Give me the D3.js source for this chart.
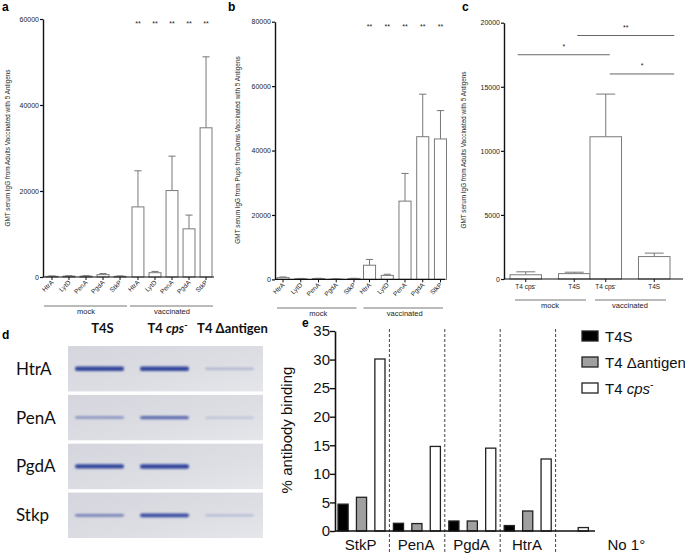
<!DOCTYPE html>
<html><head><meta charset="utf-8">
<script src="https://cdn.jsdelivr.net/npm/d3@7"></script>
<style>body{margin:0;background:#fff}svg{display:block}</style>
</head><body>
<svg id="fig" width="685" height="554"></svg>
<script>
// ---------- DATA ----------
const antigens = ["HtrA", "LytD", "PenA", "PgdA", "StkP"];
const treatGroups = ["mock", "vaccinated"];
// panel a: adults vaccinated with 5 antigens (GMT IgG)
const aMock = [150, 200, 200, 550, 150];
const aMockErr = [250, 300, 300, 800, 250];
const aVacc = [16300, 1000, 20100, 11200, 34700];
const aVaccErr = [24700, 1300, 28100, 14400, 51200];
const aStars = ["**", "**", "**", "**", "**"];
const aTicks = [0, 20000, 40000, 60000];
// panel b: pups from vaccinated dams
const bMock = [550, 200, 250, 100, 250];
const bMockErr = [750, 300, 350, 150, 350];
const bVacc = [4400, 1250, 24300, 44300, 43600];
const bVaccErr = [6200, 1600, 32900, 57500, 52400];
const bStars = ["**", "**", "**", "**", "**"];
const bTicks = [0, 20000, 40000, 60000, 80000];
// panel c
const strainsC = ["T4 cps-", "T4S"];
const cMock = [330, 420];
const cMockErr = [560, 530];
const cVacc = [11100, 1750];
const cVaccErr = [14430, 2020];
const cTicks = [0, 5000, 10000, 15000, 20000];
// comparisons in c: [from group, from strain, to group, to strain, label, level]
const cSig = [
  ["mock", "T4 cps-", "vaccinated", "T4 cps-", "*", 17500],
  ["mock", "T4S", "vaccinated", "T4S", "**", 19000],
  ["vaccinated", "T4 cps-", "vaccinated", "T4S", "*", 16000]
];
// panel d: western blot
const blotAntigens = ["HtrA", "PenA", "PgdA", "Stkp"];
const blotStrains = ["T4S", "T4 cps-", "T4 Δantigen"];
const blotIntensity = [
  [0.95, 1.0, 0.12],
  [0.3, 0.55, 0.05],
  [0.95, 1.0, 0.0],
  [0.4, 0.75, 0.1]
];
// panel e: % antibody binding
const eGroups = ["StkP", "PenA", "PgdA", "HtrA", "No 1°"];
const eSeries = ["T4S", "T4 Δantigen", "T4 cps-"];
const eT4S = [4.7, 1.35, 1.75, 0.95, null];
const eDelta = [5.9, 1.3, 1.75, 3.5, null];
const eCps = [30.1, 14.8, 14.5, 12.6, 0.6];
const eTicks = [0, 5, 10, 15, 20, 25, 30, 35];

// ---------- DRAW ----------
const svg = d3.select("#fig");
const SANS = "'Liberation Sans', Arial, Helvetica, sans-serif";
const CAL = "Lato, 'Open Sans', sans-serif";

function panelLabel(t, x, y) {
  svg.append("text").attr("x", x).attr("y", y).attr("font-family", SANS)
    .attr("font-weight", "bold").attr("font-size", 12).text(t);
}

function strainText(sel, label, italic) {
  if (label.endsWith("-") && label.startsWith("T4 cps")) {
    sel.append("tspan").text("T4 ");
    sel.append("tspan").attr("font-style", italic ? "italic" : null).text("cps");
    sel.append("tspan").attr("baseline-shift", "super").attr("font-size", "0.7em").text("-");
  } else sel.text(label);
}

function barPanel(cfg) {
  const g = svg.append("g");
  const y = d3.scaleLinear().domain([0, cfg.yMax]).range([cfg.y0, cfg.yTop]);
  const xo = d3.scaleBand().domain(treatGroups).range([cfg.xo0, cfg.xo1]);
  const xi = d3.scaleBand().domain(cfg.cats).range(cfg.inner).paddingInner(cfg.pad);
  const rows = [];
  treatGroups.forEach((grp, gi) => cfg.cats.forEach((c, ci) => rows.push({
    grp, c, v: cfg.values[gi][ci], e: cfg.errors[gi][ci],
    star: cfg.stars ? cfg.stars[gi][ci] : ""
  })));
  const cx = d => xo(d.grp) + xi(d.c) + xi.bandwidth() / 2;
  const bw = xi.bandwidth();
  g.selectAll("line.err").data(rows).join("line")
    .attr("x1", cx).attr("x2", cx).attr("y1", d => y(d.v)).attr("y2", d => y(d.e))
    .attr("stroke", "#777").attr("stroke-width", 1);
  g.selectAll("line.cap").data(rows).join("line")
    .attr("x1", d => cx(d) - bw * 0.3).attr("x2", d => cx(d) + bw * 0.3)
    .attr("y1", d => y(d.e)).attr("y2", d => y(d.e))
    .attr("stroke", "#777").attr("stroke-width", 1);
  g.selectAll("rect.bar").data(rows).join("rect")
    .attr("x", d => xo(d.grp) + xi(d.c)).attr("width", bw)
    .attr("y", d => y(d.v)).attr("height", d => y(0) - y(d.v))
    .attr("fill", "#fff").attr("stroke", "#7a7a7a").attr("stroke-width", 1);
  const ya = g.append("g").attr("transform", `translate(${cfg.xAxis},0)`)
    .call(d3.axisLeft(y).tickValues(cfg.yTicks).tickSize(3).tickSizeOuter(0).tickFormat(d3.format("d")));
  ya.select(".domain").attr("stroke", "#111").attr("stroke-width", 1.4);
  ya.selectAll(".tick line").attr("stroke", "#111").attr("stroke-width", 1.2);
  ya.selectAll(".tick text").attr("font-family", SANS).attr("font-size", 7).attr("fill", "#222").attr("x", -4);
  g.append("line").attr("x1", cfg.xAxis).attr("x2", cfg.xEnd).attr("y1", y(0)).attr("y2", y(0))
    .attr("stroke", "#111").attr("stroke-width", 1.2);
  g.selectAll("line.xt").data(rows).join("line")
    .attr("x1", cx).attr("x2", cx).attr("y1", y(0)).attr("y2", y(0) + 3)
    .attr("stroke", "#111").attr("stroke-width", 1);
  if (cfg.rotate) {
    g.selectAll("text.xl").data(rows).join("text")
      .attr("transform", d => `translate(${cx(d) + 2},${y(0) + 6}) rotate(-45)`)
      .attr("text-anchor", "end").attr("font-family", SANS).attr("font-size", 6.5).attr("fill", "#222")
      .text(d => d.c);
  } else {
    g.selectAll("text.xl").data(rows).join("text")
      .attr("x", cx).attr("y", y(0) + 10).attr("text-anchor", "middle")
      .attr("font-family", SANS).attr("font-size", 6.5).attr("fill", "#222")
      .each(function (d) { strainText(d3.select(this), d.c, false); });
  }
  treatGroups.forEach(grp => {
    g.append("line").attr("x1", xo(grp) + cfg.gInset[0]).attr("x2", xo(grp) + xo.bandwidth() - cfg.gInset[1])
      .attr("y1", cfg.gy).attr("y2", cfg.gy).attr("stroke", "#666").attr("stroke-width", 0.9);
    g.append("text").attr("x", xo(grp) + xo.bandwidth() / 2).attr("y", cfg.gy + 8)
      .attr("text-anchor", "middle").attr("font-family", SANS).attr("font-size", 7.5).attr("fill", "#222").text(grp);
  });
  if (cfg.stars) {
    g.selectAll("text.st").data(rows.filter(d => d.star)).join("text")
      .attr("x", cx).attr("y", cfg.starY).attr("text-anchor", "middle")
      .attr("font-family", SANS).attr("font-size", 7).attr("fill", "#222").text(d => d.star);
  }
  g.append("text").attr("transform", `translate(${cfg.titleX},${cfg.titleY}) rotate(-90)`)
    .attr("text-anchor", "middle").attr("font-family", SANS).attr("font-size", 6.4).attr("fill", "#222")
    .text(cfg.title);
  return { g, y, xo, xi };
}

// panel a
panelLabel("a", 2, 11);
barPanel({
  cats: antigens, values: [aMock, aVacc], errors: [aMockErr, aVaccErr],
  stars: [["", "", "", "", ""], aStars], yMax: 60000, y0: 277, yTop: 19, yTicks: aTicks,
  xAxis: 43, xEnd: 214, xo0: 43, xo1: 215, inner: [3, 83], pad: 0.3, rotate: true,
  gy: 306, gInset: [1, 2], starY: 26,
  titleX: 10, titleY: 148, title: "GMT serum IgG from Adults Vaccinated with 5 Antigens"
});
// panel b
panelLabel("b", 228, 11);
barPanel({
  cats: antigens, values: [bMock, bVacc], errors: [bMockErr, bVaccErr],
  stars: [["", "", "", "", ""], bStars], yMax: 80000, y0: 279.4, yTop: 21.7, yTicks: bTicks,
  xAxis: 275, xEnd: 445, xo0: 275, xo1: 448, inner: [2, 85], pad: 0.32, rotate: true,
  gy: 308, gInset: [2, 5], starY: 29,
  titleX: 240, titleY: 150, title: "GMT serum IgG from Pups from Dams Vaccinated with 5 Antigens"
});
// panel c
panelLabel("c", 462, 11);
const pc = barPanel({
  cats: strainsC, values: [cMock, cVacc], errors: [cMockErr, cVaccErr],
  stars: null, yMax: 20000, y0: 279, yTop: 22.7, yTicks: cTicks,
  xAxis: 504, xEnd: 683, xo0: 510, xo1: 670, inner: [0, 80], pad: 0.35, rotate: false,
  gy: 300, gInset: [5, 4], starY: 0,
  titleX: 466, titleY: 150, title: "GMT serum IgG from Adults Vaccinated with 5 Antigens"
});
cSig.forEach(([g1, s1, g2, s2, lab, lev], i) => {
  const x1 = pc.xo(g1) + pc.xi(s1) + pc.xi.bandwidth() / 2;
  const x2 = pc.xo(g2) + pc.xi(s2) + pc.xi.bandwidth() / 2;
  const yy = pc.y(lev);
  const ext = [[-8, 4], [3, 20], [4, 20]][i];
  pc.g.append("line").attr("x1", x1 + ext[0]).attr("x2", x2 + ext[1]).attr("y1", yy).attr("y2", yy)
    .attr("stroke", "#555").attr("stroke-width", 0.9);
  pc.g.append("text").attr("x", (x1 + ext[0] + x2 + ext[1]) / 2).attr("y", yy - 6).attr("text-anchor", "middle")
    .attr("font-family", SANS).attr("font-size", 7).attr("fill", "#222").text(lab);
});

// panel d: blot
panelLabel("d", 2, 339);
const defs = svg.append("defs");
defs.append("filter").attr("id", "blur").attr("x", "-20%").attr("y", "-200%").attr("width", "140%").attr("height", "500%")
  .append("feGaussianBlur").attr("stdDeviation", 0.8);
const bg = defs.append("linearGradient").attr("id", "blotbg").attr("x1", 0).attr("x2", 1).attr("y1", 0).attr("y2", 1);
bg.append("stop").attr("offset", 0).attr("stop-color", "#d5d6dd");
bg.append("stop").attr("offset", 0.6).attr("stop-color", "#dddee4");
bg.append("stop").attr("offset", 1).attr("stop-color", "#e5e6ea");
const xb = d3.scaleBand().domain(blotStrains).range([68, 263]);
const yb = d3.scaleBand().domain(blotAntigens).range([346, 538]).paddingInner(0.07);
svg.selectAll("rect.blot").data(blotAntigens).join("rect")
  .attr("x", 68).attr("width", 195).attr("y", d => yb(d)).attr("height", yb.bandwidth())
  .attr("fill", "url(#blotbg)");
const bands = [];
blotAntigens.forEach((a, i) => blotStrains.forEach((s, j) => bands.push({ a, s, v: blotIntensity[i][j] })));
svg.selectAll("rect.band").data(bands.filter(d => d.v > 0)).join("rect")
  .attr("x", d => xb(d.s) + 7).attr("width", xb.bandwidth() - 16)
  .attr("y", d => yb(d.a) + yb.bandwidth() / 2 - (1.5 + 3 * d.v) / 2).attr("height", d => 1.5 + 3 * d.v).attr("rx", 2)
  .attr("fill", "#33449b").attr("opacity", d => Math.min(1, 0.2 + d.v)).attr("filter", "url(#blur)");
svg.selectAll("text.bl").data(blotAntigens).join("text")
  .attr("x", 16).attr("y", d => yb(d) + yb.bandwidth() / 2 + 6)
  .attr("font-family", CAL).attr("font-size", 17).attr("fill", "#111").text(d => d);
svg.selectAll("text.bh").data(blotStrains).join("text")
  .attr("x", d => xb(d) + xb.bandwidth() / 2 + 2).attr("y", 333).attr("text-anchor", "middle")
  .attr("font-family", CAL).attr("font-size", 13).attr("font-weight", "bold").attr("fill", "#111")
  .each(function (d) { strainText(d3.select(this), d, true); });

// panel e
panelLabel("e", 302, 327);
const eVals = [eT4S, eDelta, eCps];
const eFill = ["#000", "#a0a0a0", "#fff"];
const ye = d3.scaleLinear().domain([0, 35]).range([531, 331]);
const xg = d3.scaleBand().domain(eGroups).range([334, 611]);
const xs = d3.scaleBand().domain(eSeries).range([4, 51]).paddingInner(0.45);
const eRows = [];
eGroups.forEach((grp, gi) => {
  const present = eSeries.filter((s, si) => eVals[si][gi] !== null);
  const sub = present.length === eSeries.length ? xs
    : d3.scaleBand().domain(present).range([xg.bandwidth() / 2 - xs.step() / 2, xg.bandwidth() / 2 + xs.step() / 2]).paddingInner(0.45).paddingOuter(0.225);
  eSeries.forEach((s, si) => {
    const v = eVals[si][gi];
    if (v !== null) eRows.push({ grp, s, si, v, x: xg(grp) + sub(s), w: xs.bandwidth() });
  });
});
svg.selectAll("line.div").data(eGroups.slice(1)).join("line")
  .attr("x1", d => xg(d)).attr("x2", d => xg(d)).attr("y1", 329).attr("y2", 554)
  .attr("stroke", "#444").attr("stroke-width", 1).attr("stroke-dasharray", "3,2");
svg.selectAll("rect.eb").data(eRows).join("rect")
  .attr("x", d => d.x).attr("width", d => d.w).attr("y", d => ye(d.v)).attr("height", d => ye(0) - ye(d.v))
  .attr("fill", d => eFill[d.si]).attr("stroke", "#222").attr("stroke-width", 1.3);
const yae = svg.append("g").attr("transform", "translate(335,0)")
  .call(d3.axisLeft(ye).tickValues(eTicks).tickSize(5).tickSizeOuter(0));
yae.select(".domain").attr("stroke", "#111").attr("stroke-width", 1.6);
yae.selectAll(".tick line").attr("stroke", "#111").attr("stroke-width", 1.4);
yae.selectAll(".tick text").attr("font-family", SANS).attr("font-size", 15).attr("fill", "#111").attr("x", -5);
svg.append("line").attr("x1", 335).attr("x2", 595).attr("y1", ye(0)).attr("y2", ye(0))
  .attr("stroke", "#111").attr("stroke-width", 1.6);
svg.selectAll("text.eg").data(eGroups).join("text")
  .attr("x", (d, i) => xg(d) + xg.bandwidth() / 2 + (i === eGroups.length - 1 ? 43 : -1)).attr("y", 550)
  .attr("text-anchor", "middle").attr("font-family", SANS).attr("font-size", 15).attr("fill", "#111").text(d => d);
svg.append("text").attr("transform", "translate(292,430) rotate(-90)").attr("text-anchor", "middle")
  .attr("font-family", SANS).attr("font-size", 15).attr("fill", "#111").text("% antibody binding");
const lg = svg.selectAll("g.leg").data(eSeries).join("g")
  .attr("transform", (d, i) => `translate(582,${336 + i * 26})`);
lg.append("rect").attr("x", 0).attr("y", -5).attr("width", 16).attr("height", 10)
  .attr("fill", (d, i) => eFill[i]).attr("stroke", "#222").attr("stroke-width", 1.3);
lg.append("text").attr("x", 23).attr("y", 5.5).attr("font-family", SANS).attr("font-size", 15).attr("fill", "#111")
  .each(function (d) { strainText(d3.select(this), d, true); });
</script>
</body></html>
